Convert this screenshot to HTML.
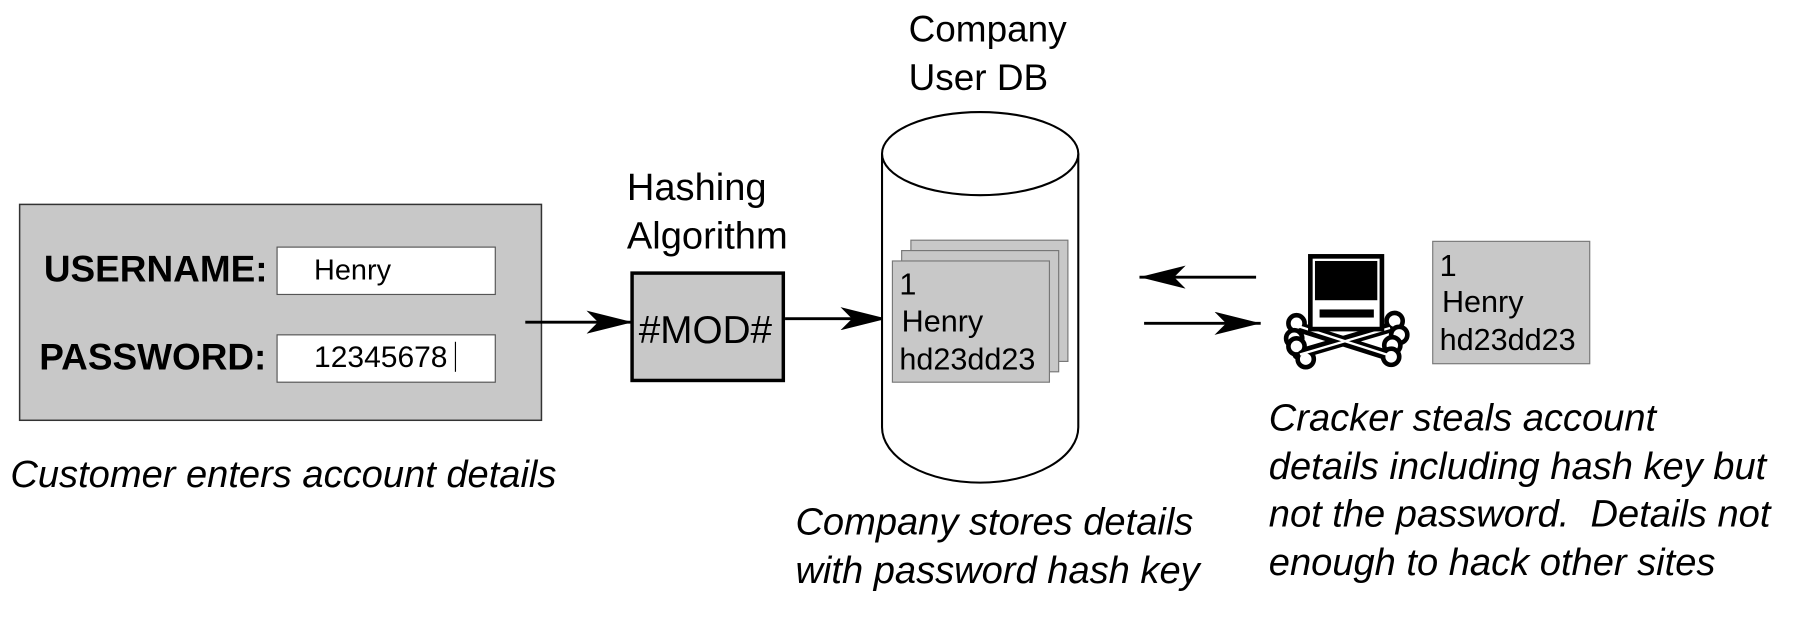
<!DOCTYPE html>
<html><head><meta charset="utf-8"><style>
html,body{margin:0;padding:0;background:#fff;}
svg{display:block;}
text{font-family:"Liberation Sans",sans-serif;fill:#000;}
</style></head><body>
<svg width="1801" height="627" viewBox="0 0 1560 543" xmlns="http://www.w3.org/2000/svg">
<defs>
<marker id="ah" viewBox="0 0 40 20" refX="40" refY="10" markerWidth="40" markerHeight="20" markerUnits="userSpaceOnUse" orient="auto">
<path d="M0,0 L40,10 L0,20 L10,10 Z" fill="#000"/>
</marker>
</defs>
<!-- left form -->
<rect x="17" y="177" width="452" height="187" fill="#c8c8c8" stroke="#333" stroke-width="1.3"/>
<text x="38" y="244" font-size="32" font-weight="bold">USERNAME:</text>
<rect x="240" y="214" width="189" height="41" fill="#fff" stroke="#555" stroke-width="1"/>
<text x="272" y="242" font-size="25">Henry</text>
<text x="34" y="320" font-size="32" font-weight="bold">PASSWORD:</text>
<rect x="240" y="290" width="189" height="41" fill="#fff" stroke="#555" stroke-width="1"/>
<text x="272" y="318" font-size="26">12345678</text>
<line x1="394.5" y1="296" x2="394.5" y2="322" stroke="#000" stroke-width="1"/>
<text x="9" y="422" font-size="33" font-style="italic">Customer enters account details</text>
<line x1="455" y1="279" x2="548" y2="279" stroke="#000" stroke-width="2.5" marker-end="url(#ah)"/>
<!-- hashing -->
<text x="543" y="173" font-size="33">Hashing</text>
<text x="543" y="215" font-size="33">Algorithm</text>
<rect x="547.5" y="236.5" width="131" height="93" fill="#c8c8c8" stroke="#000" stroke-width="3"/>
<text x="611" y="297" font-size="33.5" text-anchor="middle">#MOD#</text>
<line x1="680" y1="276" x2="768" y2="276" stroke="#000" stroke-width="2.5" marker-end="url(#ah)"/>
<!-- DB -->
<text x="787" y="36" font-size="32">Company</text>
<text x="787" y="78" font-size="32">User DB</text>
<path d="M764,133 L764,370 A85,48 0 0 0 934,370 L934,133" fill="#fff" stroke="#000" stroke-width="1.8"/>
<ellipse cx="849" cy="133" rx="85" ry="36" fill="#fff" stroke="#000" stroke-width="1.8"/>
<rect x="789" y="208" width="136" height="105" fill="#c8c8c8" stroke="#777" stroke-width="1"/>
<rect x="781" y="217" width="136" height="105" fill="#c8c8c8" stroke="#777" stroke-width="1"/>
<rect x="773" y="226" width="136" height="105" fill="#c8c8c8" stroke="#777" stroke-width="1"/>
<text x="779" y="255" font-size="26.5">1</text>
<text x="781" y="287" font-size="26.5">Henry</text>
<text x="779" y="320" font-size="26.5">hd23dd23</text>
<text x="689" y="463" font-size="33" font-style="italic">Company stores details</text>
<text x="689" y="505" font-size="33" font-style="italic">with password hash key</text>
<!-- arrows -->
<line x1="1088" y1="240" x2="987" y2="240" stroke="#000" stroke-width="2.5" marker-end="url(#ah)"/>
<line x1="991" y1="280" x2="1092" y2="280" stroke="#000" stroke-width="2.5" marker-end="url(#ah)"/>
<!-- cracker icon -->
<g>
<g stroke="#000" stroke-width="9" stroke-linecap="round">
<line x1="1124" y1="283" x2="1206" y2="309"/>
<line x1="1124" y1="307" x2="1206" y2="283"/>
</g>
<g fill="#fff" stroke="#000" stroke-width="4">
<circle cx="1123" cy="280" r="7"/><circle cx="1121" cy="293" r="7"/>
<circle cx="1123" cy="300" r="7"/><circle cx="1131" cy="311" r="7"/>
<circle cx="1208" cy="278" r="7"/><circle cx="1212" cy="290" r="7"/>
<circle cx="1206" cy="299" r="7"/><circle cx="1205" cy="309" r="7"/>
</g>
<g stroke="#fff" stroke-width="2">
<line x1="1126" y1="283" x2="1204" y2="308"/>
<line x1="1126" y1="307" x2="1204" y2="284"/>
</g>
<rect x="1133" y="220" width="66" height="67" fill="#000"/>
<rect x="1137" y="224" width="58" height="59" fill="#fff"/>
<rect x="1139" y="226" width="54" height="34" fill="#000"/>
<rect x="1143" y="268" width="47" height="7" fill="#000"/>
</g>
<rect x="1241" y="209" width="136" height="106" fill="#c8c8c8" stroke="#777" stroke-width="1"/>
<text x="1247" y="239" font-size="26.5">1</text>
<text x="1249" y="270" font-size="26.5">Henry</text>
<text x="1247" y="303" font-size="26.5">hd23dd23</text>
<text x="1099" y="373" font-size="33" font-style="italic">Cracker steals account</text>
<text x="1099" y="415" font-size="33" font-style="italic">details including hash key but</text>
<text x="1099" y="456" font-size="33" font-style="italic" xml:space="preserve">not the password.  Details not</text>
<text x="1099" y="498" font-size="33" font-style="italic">enough to hack other sites</text>
</svg>
</body></html>
